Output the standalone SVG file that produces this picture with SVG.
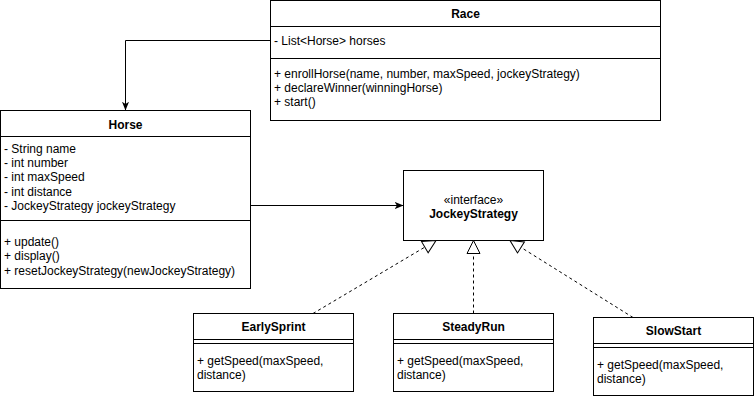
<svg xmlns="http://www.w3.org/2000/svg" width="754" height="400" viewBox="0 0 754 400">
<style>
.box{fill:#fff;stroke:#000;stroke-width:1}
.ln{stroke:#000;stroke-width:1;fill:none}
text{font-family:"Liberation Sans",Arial,Helvetica,sans-serif;font-size:12px;fill:#000}
.t{font-weight:bold;text-anchor:middle}
.c{text-anchor:middle}
.edge{stroke:#000;stroke-width:1;fill:none}
.dash{stroke-dasharray:3 3}
</style>
<defs>
<marker id="arrow" markerUnits="userSpaceOnUse" viewBox="0 0 10 8" refX="10" refY="4" markerWidth="9" markerHeight="7" orient="auto">
<path d="M0,0 L10,4 L0,8 L2.5,4 Z" fill="#000" stroke="none"/>
</marker>
<marker id="tri" markerUnits="userSpaceOnUse" viewBox="-1 -1 15 15" refX="13" refY="6.5" markerWidth="15" markerHeight="15" orient="auto">
<path d="M0,0 L13,6.5 L0,13 Z" fill="#fff" stroke="#000" stroke-width="1" stroke-dasharray="none"/>
</marker>
</defs>

<g id="race">
<rect class="box" x="270.5" y="0.5" width="390" height="120"/>
<line class="ln" x1="270.5" y1="26.5" x2="660.5" y2="26.5"/>
<line class="ln" x1="270.5" y1="58.5" x2="660.5" y2="58.5"/>
<text class="t" x="465.5" y="18">Race</text>
<text x="274" y="45">- List&lt;Horse&gt; horses</text>
<text x="274" y="78">+ enrollHorse(name, number, maxSpeed, jockeyStrategy)</text>
<text x="274" y="92">+ declareWinner(winningHorse)</text>
<text x="274" y="106">+ start()</text>
</g>

<g id="horse">
<rect class="box" x="0.5" y="110.5" width="250" height="178"/>
<line class="ln" x1="0.5" y1="136.5" x2="250.5" y2="136.5"/>
<line class="ln" x1="0.5" y1="220.5" x2="250.5" y2="220.5"/>
<text class="t" x="125.5" y="129">Horse</text>
<text x="4" y="153">- String name</text>
<text x="4" y="167">- int number</text>
<text x="4" y="181">- int maxSpeed</text>
<text x="4" y="196">- int distance</text>
<text x="4" y="210">- JockeyStrategy jockeyStrategy</text>
<text x="4" y="246">+ update()</text>
<text x="4" y="260">+ display()</text>
<text x="4" y="275">+ resetJockeyStrategy(newJockeyStrategy)</text>
</g>

<g id="jockeyStrategy">
<rect class="box" x="403.5" y="170.5" width="140" height="70"/>
<text class="c" x="473.5" y="204">«interface»</text>
<text class="t" x="473.5" y="218">JockeyStrategy</text>
</g>

<g id="earlySprint">
<rect class="box" x="193.5" y="313.5" width="160" height="78"/>
<line class="ln" x1="193.5" y1="339.5" x2="353.5" y2="339.5"/>
<line class="ln" x1="193.5" y1="343.5" x2="353.5" y2="343.5"/>
<text class="t" x="273.5" y="331">EarlySprint</text>
<text x="197" y="365">+ getSpeed(maxSpeed,</text>
<text x="197" y="379">distance)</text>
</g>

<g id="steadyRun">
<rect class="box" x="393.5" y="313.5" width="160" height="78"/>
<line class="ln" x1="393.5" y1="339.5" x2="553.5" y2="339.5"/>
<line class="ln" x1="393.5" y1="343.5" x2="553.5" y2="343.5"/>
<text class="t" x="473.5" y="331">SteadyRun</text>
<text x="397" y="365">+ getSpeed(maxSpeed,</text>
<text x="397" y="379">distance)</text>
</g>

<g id="slowStart">
<rect class="box" x="593.5" y="317.5" width="160" height="78"/>
<line class="ln" x1="593.5" y1="343.5" x2="753.5" y2="343.5"/>
<line class="ln" x1="593.5" y1="347.5" x2="753.5" y2="347.5"/>
<text class="t" x="673.5" y="335">SlowStart</text>
<text x="597" y="369">+ getSpeed(maxSpeed,</text>
<text x="597" y="383">distance)</text>
</g>

<g id="connectors">
<path class="edge" d="M270.5,40.5 H125.5 V110.5" marker-end="url(#arrow)"/>
<path class="edge" d="M250.5,205.5 H403.5" marker-end="url(#arrow)"/>
<path class="edge dash" d="M313,313.5 L436,240.5" marker-end="url(#tri)"/>
<path class="edge dash" d="M473.5,313.5 V240.5" marker-end="url(#tri)"/>
<path class="edge dash" d="M633,317.5 L510,240.5" marker-end="url(#tri)"/>
</g>
</svg>
